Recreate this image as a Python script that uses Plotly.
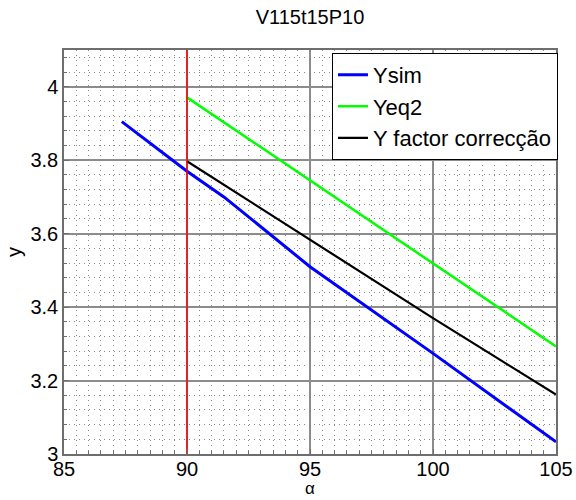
import plotly.graph_objects as go

# Data
ysim_x = [87.35, 90, 91.5, 95, 100, 105]
ysim_y = [3.905, 3.77, 3.70, 3.51, 3.274, 3.033]
yeq2_x = [90, 105]
yeq2_y = [3.971, 3.293]
ycorr_x = [90, 100, 105]
ycorr_y = [3.797, 3.37, 3.162]
ref_x = [90, 90]
ref_y = [3.0, 4.1]

x_ticks = [85, 90, 95, 100, 105]
x_ticktext = ["85", "90", "95", "100", "105"]
y_ticks = [3.0, 3.2, 3.4, 3.6, 3.8, 4.0]
y_ticktext = ["3", "3.2", "3.4", "3.6", "3.8", "4"]

FONT = "Liberation Sans, Arial, sans-serif"

fig = go.Figure()
fig.add_trace(go.Scatter(x=ysim_x, y=ysim_y, mode="lines", name="Ysim",
                         line=dict(color="#0000ff", width=3)))
fig.add_trace(go.Scatter(x=yeq2_x, y=yeq2_y, mode="lines", name="Yeq2",
                         line=dict(color="#00ff00", width=2.5)))
fig.add_trace(go.Scatter(x=ycorr_x, y=ycorr_y, mode="lines", name="Y factor correcção",
                         line=dict(color="#000000", width=2.2)))
fig.add_trace(go.Scatter(x=ref_x, y=ref_y, mode="lines", showlegend=False,
                         line=dict(color="#ff0000", width=1.5), hoverinfo="skip"))

axis_common = dict(
    showline=True, linecolor="#6e6e6e", linewidth=1.5, mirror=True,
    showgrid=True, gridcolor="#8c8c8c", gridwidth=2,
    ticks="inside", ticklen=5, tickcolor="#6e6e6e",
    zeroline=False, automargin=False,
    tickfont=dict(family=FONT, size=20, color="#000000"),
)

minor_common = dict(showgrid=True, gridcolor="#8a8a8a", griddash="1px,4px",
                    gridwidth=1, ticks="inside", ticklen=3, tickcolor="#6e6e6e")

fig.update_xaxes(
    range=[85, 105], tickvals=x_ticks, ticktext=x_ticktext,
    ticklabelstandoff=-4,
    minor=dict(dtick=0.5, **minor_common),
    **axis_common,
)
fig.update_yaxes(
    range=[3.0, 4.1], tickvals=y_ticks, ticktext=y_ticktext,
    minor=dict(dtick=0.04, **minor_common),
    **axis_common,
)

fig.update_layout(
    width=576, height=500,
    margin=dict(l=64, r=20, t=50, b=46),
    paper_bgcolor="white", plot_bgcolor="white",
    font=dict(family=FONT, color="#000000"),
    title=dict(text="V115t15P10", x=0.5, xref="paper", xanchor="center",
               y=1 - 17 / 500, yref="container", yanchor="middle",
               font=dict(family=FONT, size=20, color="#000000")),
    showlegend=True,
    legend=dict(x=1.004, xanchor="right", y=0.993, yanchor="top",
                bgcolor="white", bordercolor="#000000", borderwidth=1,
                font=dict(family=FONT, size=22, color="#000000"),
                tracegroupgap=0, itemwidth=30),
    annotations=[
        dict(text="α", xref="paper", yref="paper", x=0.5, y=-(488 - 454) / 404,
             xanchor="center", yanchor="middle", showarrow=False,
             font=dict(family=FONT, size=17, color="#000000")),
        dict(text="y", xref="paper", yref="paper", x=-(64 - 14) / 492, y=0.5,
             xanchor="center", yanchor="middle", showarrow=False, textangle=-90,
             font=dict(family=FONT, size=20, color="#000000")),
    ],
)

fig.write_html("out.html")
